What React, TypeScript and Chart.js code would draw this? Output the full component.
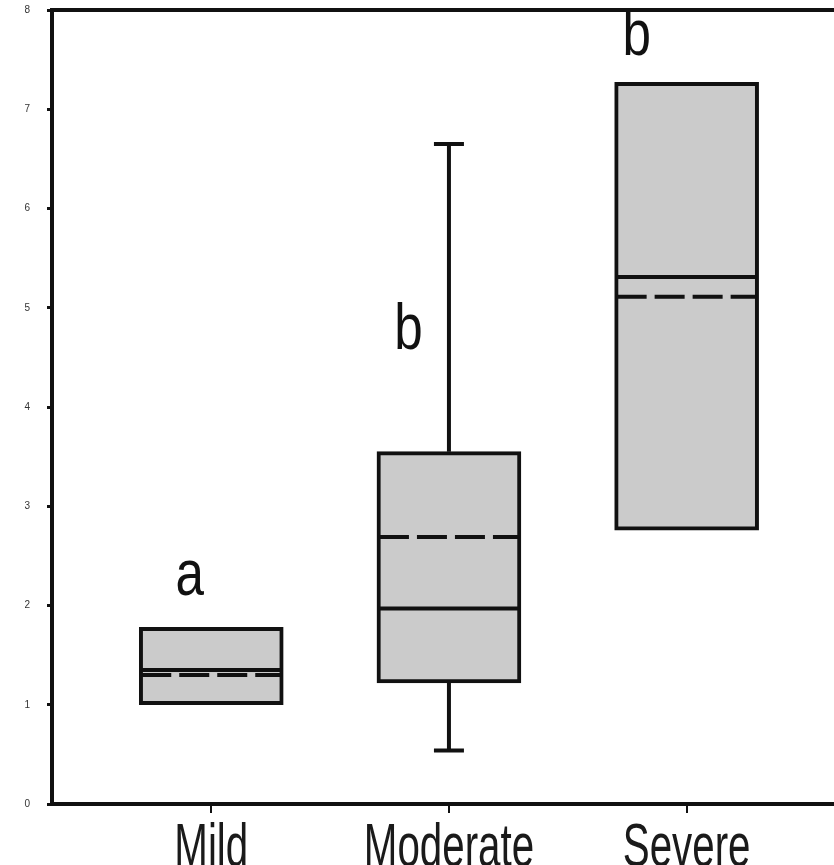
import React, { useEffect, useRef } from 'react';
import { Chart, registerables } from 'chart.js';

Chart.register(...registerables);

// ---- data ----
const categories = ['Mild', 'Moderate', 'Severe'];
const categoryX = [1, 2, 3];
const q1 = [1.0, 1.22, 2.76];
const q3 = [1.78, 3.55, 7.27];
const medians = [1.35, 1.97, 5.31];
const means = [1.3, 2.69, 5.11];
const whiskerMin = [1.0, 0.54, 2.76];
const whiskerMax = [1.78, 6.65, 7.27];
const yTicks = [0, 1, 2, 3, 4, 5, 6, 7, 8];
const sigLetters = ['a', 'b', 'b'];
const sigX = [0.91, 1.83, 2.79];
const sigY = [2.28, 4.76, 7.72];

// ---- style ----
const BOX_W = 144;
const LINE_W = 4;
const CAP_W = 30;
const FILL = '#cbcbcb';
const INK = '#111111';
const FONT = '"Liberation Sans", Arial, sans-serif';

const boxPlugin = {
  id: 'boxExtras',
  afterDatasetsDraw(chart: any) {
    const { ctx, chartArea } = chart;
    const xs = chart.scales.x;
    const ys = chart.scales.y;
    ctx.save();
    ctx.strokeStyle = INK;
    ctx.lineCap = 'butt';
    for (let i = 0; i < categories.length; i++) {
      const cx = xs.getPixelForValue(categoryX[i]);
      const half = BOX_W / 2;
      ctx.setLineDash([]);
      ctx.lineWidth = LINE_W;
      if (whiskerMax[i] > q3[i]) {
        const yTop = ys.getPixelForValue(whiskerMax[i]);
        const yBox = ys.getPixelForValue(q3[i]);
        ctx.beginPath();
        ctx.moveTo(cx, yBox);
        ctx.lineTo(cx, yTop);
        ctx.moveTo(cx - CAP_W / 2, yTop);
        ctx.lineTo(cx + CAP_W / 2, yTop);
        ctx.stroke();
      }
      if (whiskerMin[i] < q1[i]) {
        const yBot = ys.getPixelForValue(whiskerMin[i]);
        const yBox = ys.getPixelForValue(q1[i]);
        ctx.beginPath();
        ctx.moveTo(cx, yBox);
        ctx.lineTo(cx, yBot);
        ctx.moveTo(cx - CAP_W / 2, yBot);
        ctx.lineTo(cx + CAP_W / 2, yBot);
        ctx.stroke();
      }
      const ym = ys.getPixelForValue(medians[i]);
      ctx.beginPath();
      ctx.moveTo(cx - half + 2, ym);
      ctx.lineTo(cx + half - 2, ym);
      ctx.stroke();
      const ya = ys.getPixelForValue(means[i]);
      ctx.setLineDash([30, 8]);
      ctx.beginPath();
      ctx.moveTo(cx - half + 2, ya);
      ctx.lineTo(cx + half - 2, ya);
      ctx.stroke();
      ctx.setLineDash([]);
    }
    ctx.fillStyle = INK;
    ctx.font = `64px ${FONT}`;
    ctx.textAlign = 'center';
    ctx.textBaseline = 'middle';
    for (let i = 0; i < sigLetters.length; i++) {
      const x = xs.getPixelForValue(sigX[i]);
      const y = ys.getPixelForValue(sigY[i]);
      ctx.save();
      ctx.translate(x, y);
      ctx.scale(0.8, 1);
      ctx.fillText(sigLetters[i], 0, 0);
      ctx.restore();
    }
    ctx.font = `62px ${FONT}`;
    ctx.fillStyle = '#1a1a1a';
    ctx.textBaseline = 'alphabetic';
    for (let i = 0; i < categories.length; i++) {
      const x = xs.getPixelForValue(categoryX[i]);
      ctx.save();
      ctx.translate(x, chartArea.bottom + 62);
      ctx.scale(0.65, 1);
      ctx.fillText(categories[i], 0, 0);
      ctx.restore();
    }
    ctx.lineWidth = LINE_W;
    ctx.beginPath();
    ctx.moveTo(chartArea.left - 2, chartArea.top);
    ctx.lineTo(chartArea.right, chartArea.top);
    ctx.stroke();
    ctx.restore();
  },
};

export default function App() {
  const ref = useRef<HTMLCanvasElement | null>(null);
  useEffect(() => {
    document.body.style.margin = '0';
    const canvas = ref.current;
    if (!canvas) return;
    const chart = new Chart(canvas, {
      type: 'bar',
      data: {
        datasets: [
          {
            data: categoryX.map((x, i) => ({ x, y: [q1[i], q3[i]] })) as any,
            backgroundColor: FILL,
            borderColor: INK,
            borderWidth: LINE_W,
            borderSkipped: false,
            barThickness: BOX_W,
          },
        ],
      },
      options: {
        animation: false,
        responsive: false,
        maintainAspectRatio: false,
        layout: { padding: { top: 10, left: 0, right: 0, bottom: 0 } },
        plugins: { legend: { display: false }, tooltip: { enabled: false } },
        scales: {
          x: {
            type: 'linear',
            min: 0.33,
            max: 3.62,
            offset: false,
            afterBuildTicks: (s: any) => {
              s.ticks = categoryX.map((v) => ({ value: v }));
            },
            afterFit: (s: any) => {
              s.height = 61;
              s.paddingLeft = 0;
              s.paddingRight = 0;
            },
            ticks: { display: false },
            grid: {
              offset: false,
              drawOnChartArea: false,
              drawTicks: true,
              tickLength: 9,
              lineWidth: 2,
              color: INK,
            },
            border: { display: true, color: INK, width: LINE_W },
          },
          y: {
            type: 'linear',
            min: 0,
            max: 8,
            afterBuildTicks: (s: any) => {
              s.ticks = yTicks.map((v) => ({ value: v }));
            },
            afterFit: (s: any) => {
              s.width = 52;
              s.paddingTop = 0;
              s.paddingBottom = 0;
            },
            ticks: {
              color: '#333333',
              font: { size: 10, family: FONT },
              padding: 17,
            },
            grid: {
              drawOnChartArea: false,
              drawTicks: true,
              tickLength: 5,
              lineWidth: 3,
              color: INK,
            },
            border: { display: true, color: INK, width: LINE_W },
          },
        },
      },
      plugins: [boxPlugin],
    });
    return () => chart.destroy();
  }, []);
  return (
    <div style={{ width: 834, height: 865, overflow: 'hidden', background: '#fff' }}>
      <canvas ref={ref} width={834} height={865} style={{ display: 'block', width: 834, height: 865 }} />
    </div>
  );
}
